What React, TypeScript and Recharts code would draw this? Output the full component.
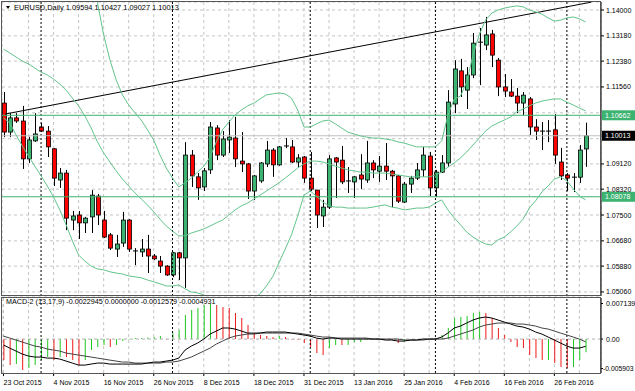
import React from "react";
import { ComposedChart, Bar, Line, XAxis, YAxis, CartesianGrid, ReferenceLine, Cell } from "recharts";

// EURUSD daily, 23 Oct 2015 .. 4 Mar 2016 (bar index 0..93)
const opens = [1.1105,1.1013,1.1058,1.1048,1.0928,1.0985,1.1029,1.1016,1.0960,1.0861,
1.0883,1.0734,1.0750,1.0725,1.0744,1.0810,1.0734,1.0687,1.0642,1.0661,
1.0734,1.0636,1.0633,1.0642,1.0620,1.0604,1.0588,1.0560,1.0630,1.0614,
1.0940,1.0871,1.0839,1.0893,1.1026,1.0940,1.0988,1.0994,1.0921,1.0912,
1.0826,1.0858,1.0912,1.0956,1.0909,1.0966,1.0966,1.0918,1.0934,1.0867,
1.0829,1.0747,1.0775,1.0931,1.0924,1.0858,1.0855,1.0877,1.0861,1.0915,
1.0889,1.0905,1.0889,1.0874,1.0791,1.0848,1.0867,1.0893,1.0937,1.0836,
1.0886,1.0915,1.1102,1.1207,1.1146,1.1194,1.1295,1.1289,1.1324,1.1241,
1.1156,1.1140,1.1127,1.1105,1.1118,1.1029,1.1016,1.1013,1.1020,1.0918,
1.0877,1.0867,1.0870,1.09594];
const highs = [1.1140,1.1073,1.1073,1.1096,1.0998,1.1073,1.1042,1.1032,1.0962,1.0899,
1.0893,1.0763,1.0763,1.0744,1.0829,1.0817,1.0763,1.0693,1.0687,1.0760,
1.0737,1.0645,1.0674,1.0687,1.0626,1.0620,1.0591,1.0633,1.0633,1.0981,
1.0956,1.0883,1.0899,1.1045,1.1035,1.1016,1.1051,1.1061,1.1013,1.0915,
1.0877,1.0918,1.0985,1.0962,1.0969,1.0994,1.0988,1.0943,1.0937,1.0950,
1.0829,1.0798,1.0940,1.0934,1.0969,1.0902,1.0874,1.0943,1.0985,1.0924,
1.0937,1.0978,1.0893,1.0877,1.0855,1.0874,1.0915,1.0966,1.0950,1.0893,
1.0940,1.1146,1.1241,1.1245,1.1219,1.1327,1.1343,1.1378,1.1337,1.1248,
1.1197,1.1181,1.1153,1.1140,1.1124,1.1054,1.1045,1.1051,1.1070,1.0963,
1.0883,1.0883,1.0972,1.10427];
const lows = [1.0997,1.0997,1.1042,1.0896,1.0915,1.0982,1.1013,1.0934,1.0842,1.0836,
1.0702,1.0702,1.0674,1.0693,1.0693,1.0718,1.0677,1.0639,1.0617,1.0649,
1.0633,1.0591,1.0617,1.0566,1.0607,1.0566,1.0557,1.0553,1.0544,1.0519,
1.0839,1.0798,1.0826,1.0880,1.0924,1.0934,1.0947,1.0902,1.0886,1.0801,
1.0798,1.0852,1.0902,1.0871,1.0906,1.0962,1.0915,1.0902,1.0852,1.0826,
1.0709,1.0712,1.0769,1.0804,1.0848,1.0820,1.0804,1.0832,1.0852,1.0867,
1.0855,1.0861,1.0775,1.0788,1.0788,1.0820,1.0861,1.0871,1.0810,1.0807,
1.0883,1.0902,1.1073,1.1124,1.1086,1.1184,1.1162,1.1273,1.1219,1.1127,
1.1124,1.1124,1.1073,1.1067,1.1004,1.0988,1.0956,1.0981,1.0912,1.0861,
1.0826,1.0823,1.0852,1.09027];
const closes = [1.1013,1.1058,1.1048,1.0928,1.0988,1.1007,1.1016,1.0966,1.0867,1.0883,
1.0740,1.0747,1.0725,1.0740,1.0813,1.0750,1.0680,1.0645,1.0658,1.0734,
1.0642,1.0633,1.0642,1.0620,1.0611,1.0588,1.0560,1.0630,1.0614,1.0940,
1.0874,1.0836,1.0890,1.1029,1.0940,1.0991,1.0997,1.0928,1.0912,1.0826,
1.0874,1.0915,1.0956,1.0909,1.0966,1.0969,1.0918,1.0931,1.0867,1.0832,
1.0750,1.0775,1.0928,1.0918,1.0855,1.0858,1.0871,1.0864,1.0915,1.0893,
1.0905,1.0889,1.0874,1.0794,1.0848,1.0867,1.0893,1.0940,1.0836,1.0886,
1.0915,1.1108,1.1213,1.1156,1.1194,1.1295,1.1298,1.1321,1.1257,1.1156,
1.1143,1.1127,1.1105,1.1130,1.1029,1.1016,1.1013,1.1016,1.0940,1.0874,
1.0867,1.0870,1.0956,1.10013];

// Bollinger bands
const bbUpper = [1.1494,1.1486,1.1498,1.1507,1.1521,1.1527,1.1532,1.1546,1.1555,1.1564,
1.1573,1.1574,1.1569,1.1524,1.1464,1.1425,1.1321,1.1242,1.1178,1.1131,
1.1099,1.1074,1.1051,1.1020,1.0988,1.0940,1.0899,1.0867,1.0839,1.0852,
1.0867,1.0886,1.0905,1.0934,1.0982,1.1020,1.1045,1.1067,1.1083,1.1096,
1.1105,1.1118,1.1131,1.1134,1.1137,1.1134,1.1121,1.1083,1.1029,1.1029,
1.1039,1.1048,1.1051,1.1039,1.1026,1.1013,1.1007,1.1001,1.0997,1.0994,
1.0994,1.0991,1.0988,1.0982,1.0978,1.0972,1.0966,1.0966,1.0966,1.0966,
1.0985,1.1067,1.1118,1.1127,1.1172,1.1257,1.1321,1.1368,1.1390,1.1400,
1.1406,1.1410,1.1413,1.1410,1.1400,1.1394,1.1387,1.1375,1.1365,1.1368,
1.1375,1.1378,1.1372,1.1362];
const bbMiddle = [1.1276,1.1264,1.1251,1.1238,1.1229,1.1216,1.1203,1.1194,1.1181,1.1165,
1.1146,1.1121,1.1096,1.1064,1.1026,1.0982,1.0947,1.0918,1.0890,1.0864,
1.0842,1.0820,1.0801,1.0782,1.0760,1.0737,1.0715,1.0699,1.0684,1.0684,
1.0693,1.0699,1.0706,1.0715,1.0725,1.0734,1.0750,1.0766,1.0779,1.0788,
1.0801,1.0813,1.0826,1.0839,1.0852,1.0867,1.0883,1.0899,1.0912,1.0921,
1.0921,1.0918,1.0912,1.0905,1.0899,1.0893,1.0890,1.0886,1.0886,1.0883,
1.0883,1.0883,1.0880,1.0877,1.0874,1.0871,1.0871,1.0871,1.0871,1.0877,
1.0886,1.0902,1.0915,1.0931,1.0950,1.0972,1.0994,1.1016,1.1032,1.1042,
1.1051,1.1061,1.1077,1.1086,1.1096,1.1105,1.1111,1.1115,1.1118,1.1118,
1.1108,1.1099,1.1089,1.1080];
const bbLower = [1.1058,1.1042,1.1004,1.0969,1.0937,1.0905,1.0874,1.0842,1.0807,1.0766,
1.0719,1.0668,1.0623,1.0604,1.0588,1.0579,1.0576,1.0570,1.0566,1.0563,
1.0557,1.0554,1.0551,1.0544,1.0538,1.0532,1.0525,1.0525,1.0528,1.0516,
1.0506,1.0503,1.0497,1.0481,1.0455,1.0436,1.0436,1.0443,1.0455,1.0471,
1.0487,1.0500,1.0525,1.0554,1.0598,1.0642,1.0687,1.0747,1.0813,1.0826,
1.0810,1.0791,1.0779,1.0775,1.0775,1.0772,1.0772,1.0772,1.0772,1.0775,
1.0779,1.0782,1.0775,1.0772,1.0766,1.0769,1.0772,1.0772,1.0775,1.0788,
1.0798,1.0766,1.0741,1.0719,1.0696,1.0680,1.0668,1.0658,1.0655,1.0671,
1.0680,1.0696,1.0715,1.0737,1.0772,1.0795,1.0823,1.0842,1.0864,1.0871,
1.0858,1.0833,1.0810,1.0798];

// MACD-2 (13,17,9)
const macdMain = [-0.00104,-0.00157,-0.00209,-0.00261,-0.00296,-0.00313,-0.00313,-0.00331,-0.00331,-0.00348,
-0.00383,-0.00418,-0.00453,-0.00453,-0.00435,-0.00418,-0.00418,-0.00435,-0.00435,-0.00435,
-0.00435,-0.00435,-0.00435,-0.00418,-0.00400,-0.00400,-0.00383,-0.00366,-0.00331,-0.00192,
-0.00122,-0.00070,0.00000,0.00087,0.00139,0.00192,0.00192,0.00174,0.00139,0.00104,
0.00104,0.00104,0.00122,0.00122,0.00122,0.00122,0.00104,0.00087,0.00070,0.00052,
0.00017,0.00000,0.00017,0.00017,0.00000,0.00000,0.00000,0.00000,0.00000,0.00000,
0.00000,-0.00017,-0.00017,-0.00035,-0.00035,-0.00017,-0.00017,0.00000,0.00000,0.00000,
0.00035,0.00104,0.00192,0.00226,0.00279,0.00331,0.00366,0.00383,0.00366,0.00331,
0.00296,0.00261,0.00226,0.00209,0.00174,0.00122,0.00087,0.00035,-0.00017,-0.00070,
-0.00122,-0.00157,-0.00157,-0.0012579];
const macdSignal = [0.00052,0.00017,-0.00017,-0.00052,-0.00087,-0.00122,-0.00139,-0.00174,-0.00192,-0.00209,
-0.00244,-0.00261,-0.00279,-0.00296,-0.00313,-0.00331,-0.00348,-0.00366,-0.00383,-0.00400,
-0.00400,-0.00418,-0.00418,-0.00418,-0.00418,-0.00418,-0.00400,-0.00400,-0.00383,-0.00348,
-0.00313,-0.00261,-0.00209,-0.00157,-0.00087,-0.00035,0.00017,0.00052,0.00070,0.00087,
0.00087,0.00104,0.00104,0.00104,0.00104,0.00104,0.00104,0.00104,0.00087,0.00070,
0.00052,0.00035,0.00035,0.00017,0.00017,0.00017,0.00017,0.00017,0.00017,0.00000,
0.00000,0.00000,0.00000,0.00000,-0.00017,-0.00017,-0.00017,-0.00017,0.00000,0.00000,
0.00000,0.00017,0.00052,0.00087,0.00122,0.00157,0.00209,0.00244,0.00261,0.00279,
0.00279,0.00279,0.00261,0.00261,0.00244,0.00226,0.00192,0.00174,0.00139,0.00104,
0.00070,0.00035,0.00000,-0.0004931];
const macdHist = [-0.00366,-0.00453,-0.00435,-0.00540,-0.00505,-0.00453,-0.00366,-0.00313,-0.00366,-0.00313,
-0.00313,-0.00366,-0.00453,-0.00366,-0.00192,-0.00139,-0.00104,-0.00139,-0.00104,-0.00035,
-0.00009,0.00017,0.00017,0.00026,0.00035,0.00052,-0.00009,0.00104,0.00157,0.00418,
0.00505,0.00540,0.00592,0.00609,0.00592,0.00557,0.00540,0.00453,0.00366,0.00244,
0.00104,0.00070,0.00052,0.00035,0.00052,0.00035,-0.00009,-0.00017,-0.00070,-0.00139,
-0.00244,-0.00279,-0.00157,-0.00104,-0.00104,-0.00104,-0.00052,-0.00052,-0.00017,-0.00009,
0.00000,-0.00009,-0.00017,-0.00070,-0.00035,-0.00017,0.00000,0.00009,0.00000,0.00017,
0.00070,0.00192,0.00366,0.00383,0.00400,0.00453,0.00470,0.00453,0.00366,0.00192,
0.00070,-0.00052,-0.00139,-0.00157,-0.00279,-0.00331,-0.00366,-0.00366,-0.00418,-0.00487,
-0.00505,-0.00487,-0.00366,-0.0022945];
const histColors = ("rrgrggggrg" + "rrrggggrgg" + "ggggggrggg" + "ggggrrrrrr" + "rrrrgrrrrr" +
  "rrggrggggg" + "grrrggggrg" + "gggggggrrr" + "rrrrrrrgrr" + "rggg").split("");

const labelBars = [0, 8, 16, 24, 32, 40, 48, 56, 64, 72, 80, 88];
const labelTexts = ["23 Oct 2015", "4 Nov 2015", "16 Nov 2015", "26 Nov 2015", "8 Dec 2015", "18 Dec 2015",
  "31 Dec 2015", "13 Jan 2016", "25 Jan 2016", "4 Feb 2016", "16 Feb 2016", "26 Feb 2016"];
const gridBars = [0,4,8,12,16,20,24,28,32,36,40,44,48,52,56,60,64,68,72,76,80,84,88,92];
const monthStarts = [6, 27, 49, 69, 90];

const priceTicks = [1.14, 1.1318, 1.1238, 1.1156, 1.1074, 1.0992, 1.0912, 1.0832, 1.075, 1.0668, 1.0588, 1.0506];
const hiddenPriceTicks = [1.1074, 1.0992];
const priceDomain = [1.04932, 1.14254];
const macdTicks = [0.007139, 0, -0.005903];
const macdDomain = [-0.005903, 0.007139];
const barDomain = [-0.24, 95.45];

const trendline = [{ x: 0.24, y: 1.107 }, { x: 93.9, y: 1.1425 }];
const upperLevel = 1.10662;
const lowerLevel = 1.08078;
const bidLevel = 1.10013;

const FONT = '"Liberation Sans", Arial, sans-serif';
const BULL = "#3cb371";
const BEAR = "#ff0000";
const BAND = "#62c48c";
const LEVEL = "#3cb371";
const GRID = "#c4c4c4";

const rows = opens.map((o, i) => ({
  i, o, h: highs[i], l: lows[i], c: closes[i], range: [lows[i], highs[i]],
  up: bbUpper[i], mid: bbMiddle[i], lo: bbLower[i],
}));
const macdRows = macdMain.map((m, i) => ({ i, macd: m, signal: macdSignal[i], hist: macdHist[i] }));

function Candle(props: any) {
  const { x, y, width, height, payload } = props;
  if (!payload || height == null) return <g />;
  const { o, h, l, c } = payload;
  const cx = Math.round(x + width / 2) + 0.5;
  const py = (p: number) => y + ((h - p) / (h - l)) * height;
  const top = py(Math.max(o, c));
  const bottom = py(Math.min(o, c));
  const bodyH = bottom - top;
  return (
    <g>
      <line x1={cx} x2={cx} y1={y} y2={y + height} stroke="#000" strokeWidth={1} />
      {bodyH < 1.2 ? (
        <line x1={cx - 2.5} x2={cx + 2.5} y1={top} y2={top} stroke="#000" strokeWidth={1} />
      ) : (
        <rect x={cx - 2} y={top} width={4} height={bodyH} fill={c >= o ? BULL : BEAR} stroke="#000" strokeWidth={0.8} />
      )}
    </g>
  );
}

function PriceTick(props: any) {
  const { y, payload } = props;
  if (hiddenPriceTicks.includes(payload.value)) return <g />;
  return (
    <g>
      <line x1={601} x2={604} y1={y} y2={y} stroke="#000" />
      <text x={606} y={y + 2.5} fontSize={7} fontFamily={FONT} fill="#000">{payload.value.toFixed(5)}</text>
    </g>
  );
}

function MacdTick(props: any) {
  const { y, payload } = props;
  const v = payload.value;
  const label = v === 0 ? "0.00" : v.toFixed(6);
  const shift = v > 0 ? 5.5 : v < 0 ? -4.5 : 0;
  return (
    <g>
      <line x1={601} x2={603} y1={y + shift} y2={y + shift} stroke="#000" />
      <text x={v < 0 ? 603 : 606} y={y + shift + 2.5} fontSize={v < 0 ? 6.8 : 7} fontFamily={FONT} fill="#000">{label}</text>
    </g>
  );
}

function DateTick(props: any) {
  const { x, payload } = props;
  const k = labelBars.indexOf(payload.value);
  if (k < 0) return <g />;
  return (
    <g>
      <line x1={x} x2={x} y1={76} y2={79} stroke="#000" />
      <text x={x} y={87.5} fontSize={7} fontFamily={FONT} fill="#000">{labelTexts[k]}</text>
    </g>
  );
}

const priceTag = (text: string, fill: string) => (props: any) => {
  const y = props.viewBox ? props.viewBox.y : 0;
  return (
    <g>
      <rect x={602} y={y - 5} width={33} height={10} fill={fill} />
      <text x={605} y={y + 2.5} fontSize={7} fontFamily={FONT} fill="#fff">{text}</text>
    </g>
  );
};

export default function App() {
  return (
    <div style={{ position: "absolute", left: 0, top: 0, width: 635, height: 391, background: "#fff", overflow: "hidden", fontFamily: FONT }}>
      <div style={{ position: "absolute", left: 0, top: 0 }}>
        <ComposedChart width={635} height={298} data={rows} margin={{ top: 2, right: 0, bottom: 2, left: 2 }}>
          <CartesianGrid stroke={GRID} strokeDasharray="3 3" />
          <XAxis type="number" dataKey="i" domain={barDomain} allowDataOverflow ticks={gridBars} hide />
          <YAxis orientation="right" width={34} domain={priceDomain} allowDataOverflow ticks={priceTicks}
            interval={0} tick={<PriceTick />} tickLine={false} axisLine={{ stroke: "#000" }} />
          {monthStarts.map((b) => (
            <ReferenceLine key={b} x={b} stroke="#000" strokeDasharray="2 2" />
          ))}
          <ReferenceLine y={bidLevel} stroke="#c0c0c0" label={priceTag("1.10013", "#000")} />
          <ReferenceLine y={upperLevel} stroke={LEVEL} label={priceTag("1.10662", LEVEL)} />
          <ReferenceLine y={lowerLevel} stroke={LEVEL} label={priceTag("1.08078", LEVEL)} />
          <ReferenceLine segment={trendline} stroke="#000" strokeWidth={1} ifOverflow="visible" />
          <Line dataKey="up" stroke={BAND} dot={false} strokeWidth={1} isAnimationActive={false} />
          <Line dataKey="mid" stroke={BAND} dot={false} strokeWidth={1} isAnimationActive={false} />
          <Line dataKey="lo" stroke={BAND} dot={false} strokeWidth={1} isAnimationActive={false} />
          <Bar dataKey="range" barSize={5} shape={<Candle />} isAnimationActive={false} />
        </ComposedChart>
      </div>
      <div style={{ position: "absolute", left: 0, top: 297 }}>
        <ComposedChart width={635} height={94} data={macdRows} margin={{ top: 1, right: 0, bottom: 0, left: 2 }}>
          <CartesianGrid stroke={GRID} strokeDasharray="3 3" horizontal={false} />
          <XAxis type="number" dataKey="i" domain={barDomain} allowDataOverflow ticks={gridBars} interval={0}
            tick={<DateTick />} tickLine={false} axisLine={false} height={18} />
          <YAxis orientation="right" width={34} domain={macdDomain} allowDataOverflow ticks={macdTicks}
            interval={0} tick={<MacdTick />} tickLine={false} axisLine={{ stroke: "#000" }} />
          {monthStarts.map((b) => (
            <ReferenceLine key={b} x={b} stroke="#000" strokeDasharray="2 2" />
          ))}
          <ReferenceLine y={0} stroke="#b0b0b0" strokeDasharray="3 3" />
          <Bar dataKey="hist" barSize={1} isAnimationActive={false}>
            {macdRows.map((r, k) => (
              <Cell key={k} fill={histColors[k] === "g" ? "#1ec81e" : "#f01a1a"} />
            ))}
          </Bar>
          <Line dataKey="signal" stroke="#444" dot={false} strokeWidth={1} isAnimationActive={false} />
          <Line dataKey="macd" stroke="#000" dot={false} strokeWidth={1} isAnimationActive={false} />
        </ComposedChart>
      </div>
      <div style={{ position: "absolute", left: 1, top: 1, width: 600, height: 295, border: "1px solid #555", boxSizing: "border-box", pointerEvents: "none" }} />
      <div style={{ position: "absolute", left: 1, top: 297, width: 600, height: 77, border: "1px solid #555", boxSizing: "border-box", pointerEvents: "none" }} />
      <div style={{ position: "absolute", left: 6, top: 6, width: 0, height: 0, borderLeft: "2.5px solid transparent", borderRight: "2.5px solid transparent", borderTop: "3.5px solid #000" }} />
      <div style={{ position: "absolute", left: 14, top: 3, fontSize: 7.4, lineHeight: "10px", whiteSpace: "nowrap", color: "#000" }}>
        EURUSD,Daily 1.09594 1.10427 1.09027 1.10013
      </div>
      <div style={{ position: "absolute", left: 6, top: 297, fontSize: 7.2, lineHeight: "10px", whiteSpace: "nowrap", color: "#000" }}>
        MACD-2 (13,17,9) -0.0022945 0.0000000 -0.0012579 -0.0004931
      </div>
    </div>
  );
}
